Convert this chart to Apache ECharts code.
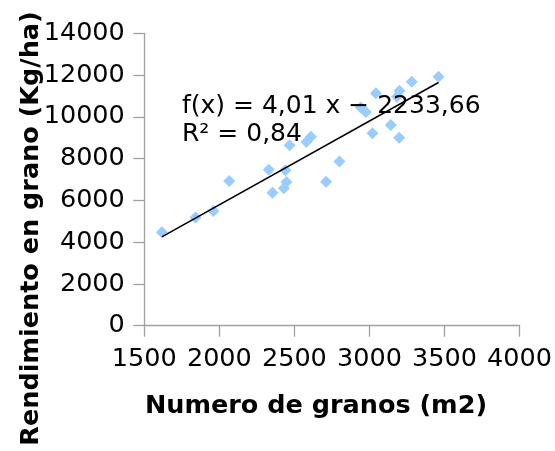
<!DOCTYPE html>
<html>
<head>
<meta charset="utf-8">
<script src="https://cdn.jsdelivr.net/npm/echarts@6/dist/echarts.min.js"></script>
<style>
  html, body { margin: 0; padding: 0; background: #ffffff; }
  #chart { width: 555px; height: 451px; }
</style>
</head>
<body>
<div id="chart"></div>
<script>
// Grain number per m2 (x) and grain yield in kg/ha (y)
const granos = [1617, 1841, 1960, 2066, 2330, 2354, 2430, 2447, 2440, 2468, 2580, 2610,
                2711, 2800, 2942, 2976, 3020, 3043, 3142, 3200, 3183, 3198, 3282, 3460];
const rendimiento = [4470, 5180, 5490, 6927, 7470, 6367, 6577, 6880, 7440, 8640, 8808, 9048,
                     6895, 7860, 10450, 10230, 9210, 11125, 9608, 11250, 10960, 9000, 11680, 11920];

// Linear trend as reported: f(x) = 4,01 x − 2233,66 ; R² = 0,84
const slope = 4.01;
const intercept = -2233.66;
const equationLines = ['f(x) = 4,01 x − 2233,66', 'R² = 0,84'];

const xTitle = 'Numero de granos (m2)';
const yTitle = 'Rendimiento en grano (Kg/ha)';

const points = granos.map((g, i) => [g, rendimiento[i]]);
const xMin = Math.min(...granos);
const xMax = Math.max(...granos);
const trend = [[xMin, slope * xMin + intercept], [xMax, slope * xMax + intercept]];

const FAMILY = 'DejaVu Sans';
const FONT = '"DejaVu Sans", sans-serif';
const axisGray = '#a0a0a0';
const plain = v => String(v);

const chart = echarts.init(document.getElementById('chart'), null, { renderer: 'canvas' });
chart.setOption({
  animation: false,
  backgroundColor: '#ffffff',
  textStyle: { fontFamily: FAMILY },
  grid: { left: 144.3, right: 34.3, top: 33.3, bottom: 125.3, containLabel: false },
  xAxis: {
    type: 'value', min: 1500, max: 4000, interval: 500,
    axisLine: { show: true, onZero: false, lineStyle: { color: axisGray, width: 1.3 } },
    axisTick: { show: true, inside: false, length: 11, lineStyle: { color: axisGray, width: 1.3 } },
    splitLine: { show: false },
    axisLabel: { color: '#000', fontFamily: FAMILY, fontSize: 25.5, margin: 20.5, formatter: plain }
  },
  yAxis: {
    type: 'value', min: 0, max: 14000, interval: 2000,
    axisLine: { show: true, onZero: false, lineStyle: { color: axisGray, width: 1.3 } },
    axisTick: { show: true, inside: false, length: 11, lineStyle: { color: axisGray, width: 1.3 } },
    splitLine: { show: false },
    axisLabel: { color: '#000', fontFamily: FAMILY, fontSize: 25.5, margin: 19.5, formatter: plain }
  },
  series: [
    {
      type: 'scatter',
      data: points,
      symbol: 'diamond',
      symbolSize: 12,
      itemStyle: { color: '#99ccff', opacity: 1 },
      z: 2
    },
    {
      type: 'line',
      data: trend,
      symbol: 'none',
      lineStyle: { color: '#000000', width: 1.6 },
      z: 3
    }
  ],
  graphic: [
    {
      type: 'text', x: 182, y: 106.5,
      style: { text: equationLines[0], font: '25px ' + FONT, fill: '#000', textAlign: 'left', textVerticalAlign: 'middle' },
      z: 10
    },
    {
      type: 'text', x: 182, y: 134.5,
      style: { text: equationLines[1], font: '25px ' + FONT, fill: '#000', textAlign: 'left', textVerticalAlign: 'middle' },
      z: 10
    },
    {
      type: 'text', x: 316, y: 406,
      style: { text: xTitle, font: 'bold 25.5px ' + FONT, fill: '#000', textAlign: 'center', textVerticalAlign: 'middle' }
    },
    {
      type: 'text', x: 31, y: 228.5, rotation: Math.PI / 2,
      style: { text: yTitle, font: 'bold 25.5px ' + FONT, fill: '#000', textAlign: 'center', textVerticalAlign: 'middle' }
    }
  ]
});
</script>
</body>
</html>
